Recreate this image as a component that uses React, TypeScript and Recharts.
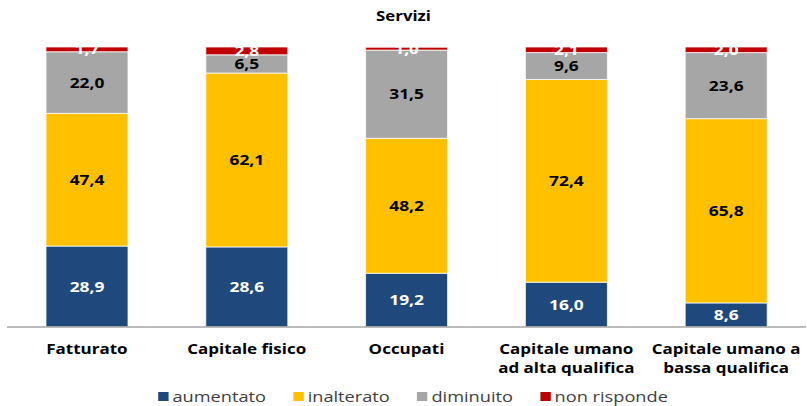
import React from "react";
import { BarChart, Bar, XAxis, YAxis, Legend, LabelList } from "recharts";

const categories = [
  "Fatturato",
  "Capitale fisico",
  "Occupati",
  "Capitale umano ad alta qualifica",
  "Capitale umano a bassa qualifica",
];
const tickLines: string[][] = [
  ["Fatturato"],
  ["Capitale fisico"],
  ["Occupati"],
  ["Capitale umano", "ad alta qualifica"],
  ["Capitale umano a", "bassa qualifica"],
];
const aumentato = [28.9, 28.6, 19.2, 16.0, 8.6];
const inalterato = [47.4, 62.1, 48.2, 72.4, 65.8];
const diminuito = [22.0, 6.5, 31.5, 9.6, 23.6];
const nonRisponde = [1.7, 2.8, 1.0, 2.1, 2.0];
const seriesNames = ["aumentato", "inalterato", "diminuito", "non risponde"];
const seriesColors = ["#1F497D", "#FFC000", "#A6A6A6", "#C00000"];

const data = categories.map((c, i) => ({
  name: c,
  aumentato: aumentato[i],
  inalterato: inalterato[i],
  diminuito: diminuito[i],
  nonRisponde: nonRisponde[i],
}));

const FONT = "'Open Sans', 'Noto Sans', sans-serif";
const STRETCH = 1.26;
const fmt = (v: any) => Number(v).toFixed(1).replace(".", ",");

const Tick = (props: any) => {
  const { x, y, payload } = props;
  const lines = tickLines[payload.index] || [String(payload.value)];
  return (
    <g>
      {lines.map((l, k) => (
        <text
          key={k}
          transform={`translate(${x},${y + 19 + k * 19}) scale(${STRETCH},1)`}
          x={0}
          y={0}
          textAnchor="middle"
          fontFamily={FONT}
          fontWeight="bold"
          fontSize={13.5}
          fill="#000"
        >
          {l}
        </text>
      ))}
    </g>
  );
};

const mkLabel = (color: string) => (props: any) => {
  const { x, y, width, height, value } = props;
  return (
    <text
      transform={`translate(${x + width / 2},${y + height / 2}) scale(1.24,1)`}
      x={0}
      y={0}
      dy="0.36em"
      textAnchor="middle"
      fontFamily={FONT}
      fontWeight="bold"
      fontSize={14}
      fill={color}
    >
      {fmt(value)}
    </text>
  );
};

const LegendContent = () => (
  <div style={{ display: "flex", justifyContent: "center", paddingTop: 10, paddingLeft: 14 }}>
    <div
      style={{
        display: "flex",
        gap: 21,
        fontFamily: FONT,
        fontSize: 14,
        color: "#404040",
        transform: "scaleX(1.3)",
        transformOrigin: "center",
      }}
    >
      {seriesNames.map((n, i) => (
        <div key={n} style={{ display: "flex", alignItems: "center" }}>
          <span style={{ width: 8, height: 9, background: seriesColors[i], marginRight: 3, display: "inline-block" }} />
          <span>{n}</span>
        </div>
      ))}
    </div>
  </div>
);

export default function App() {
  return (
    <div style={{ position: "absolute", left: 0, top: 0, width: 807, height: 406, background: "#fff" }}>
      <div
        style={{
          position: "absolute",
          left: 0,
          top: 5,
          width: 807,
          textAlign: "center",
          fontFamily: FONT,
          fontWeight: "bold",
          fontSize: 15,
          color: "#000",
          transform: "scaleX(1.12)",
        }}
      >
        Servizi
      </div>
      <BarChart
        width={807}
        height={406}
        data={data}
        margin={{ top: 47, right: 1, left: 7, bottom: 0 }}
        barSize={82}
      >
        <YAxis hide domain={[0, 100]} allowDataOverflow />
        <XAxis
          dataKey="name"
          tickLine={false}
          axisLine={{ stroke: "#A6A6A6", strokeWidth: 1.5 }}
          tick={<Tick />}
          height={50}
          interval={0}
        />
        <Legend verticalAlign="bottom" height={29} content={<LegendContent />} />
        <Bar dataKey="aumentato" name={seriesNames[0]} stackId="a" fill={seriesColors[0]} stroke="#fff" strokeWidth={0.75} isAnimationActive={false}>
          <LabelList dataKey="aumentato" content={mkLabel("#fff")} />
        </Bar>
        <Bar dataKey="inalterato" name={seriesNames[1]} stackId="a" fill={seriesColors[1]} stroke="#fff" strokeWidth={0.75} isAnimationActive={false}>
          <LabelList dataKey="inalterato" content={mkLabel("#000")} />
        </Bar>
        <Bar dataKey="diminuito" name={seriesNames[2]} stackId="a" fill={seriesColors[2]} stroke="#fff" strokeWidth={0.75} isAnimationActive={false}>
          <LabelList dataKey="diminuito" content={mkLabel("#000")} />
        </Bar>
        <Bar dataKey="nonRisponde" name={seriesNames[3]} stackId="a" fill={seriesColors[3]} stroke="#fff" strokeWidth={0.75} isAnimationActive={false}>
          <LabelList dataKey="nonRisponde" content={mkLabel("#fff")} />
        </Bar>
      </BarChart>
    </div>
  );
}
